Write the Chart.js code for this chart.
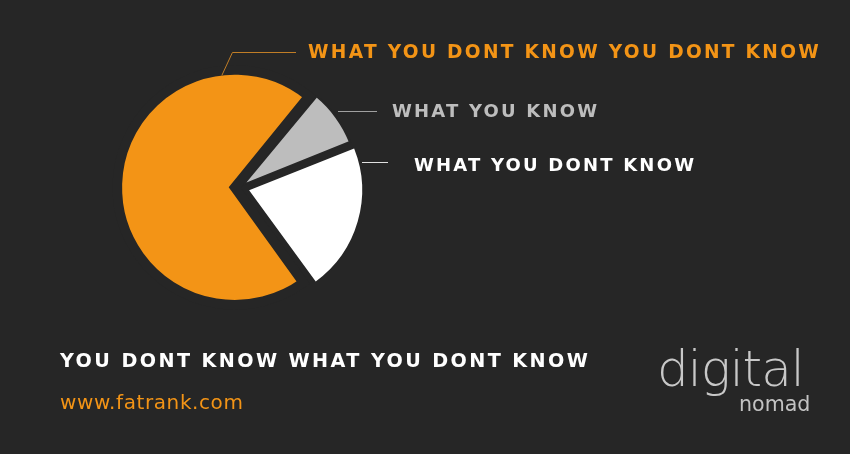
<!DOCTYPE html>
<html>
<head>
<meta charset="utf-8">
<script src="https://cdn.jsdelivr.net/npm/chart.js@4/dist/chart.umd.min.js"></script>
<style>
  html, body { margin: 0; padding: 0; background: #262626; }
  #wrap { position: relative; width: 850px; height: 454px; background: #262626; overflow: hidden; }
  #c { position: absolute; left: 0; top: 0; }
  .t { position: absolute; white-space: nowrap; font-family: "DejaVu Sans", sans-serif; font-weight: bold; line-height: 1; }
</style>
</head>
<body>
<div id="wrap">
  <canvas id="c" width="850" height="454"></canvas>
  <div class="t" id="l0" style="left:308px; top:43px; font-size:18.6px; letter-spacing:2.3px; color:#f39416;">WHAT YOU DONT KNOW YOU DONT KNOW</div>
  <div class="t" id="l1" style="left:392px; top:102px; font-size:18px; letter-spacing:2.2px; color:#bdbdbd;">WHAT YOU KNOW</div>
  <div class="t" id="l2" style="left:414px; top:156px; font-size:18px; letter-spacing:2.2px; color:#ffffff;">WHAT YOU DONT KNOW</div>
  <div class="t" id="title" style="left:60px; top:351px; font-size:19.2px; letter-spacing:2.4px; color:#ffffff;">YOU DONT KNOW WHAT YOU DONT KNOW</div>
  <div class="t" id="url" style="left:60px; top:392px; font-size:20px; font-weight:normal; letter-spacing:0.6px; font-family:'Comic Sans MS','DejaVu Sans',sans-serif; color:#f39416;">www.fatrank.com</div>
  <div class="t" id="logo1" style="left:657px; top:344px; font-size:50px; font-weight:200; font-family:'DejaVu Sans',sans-serif; color:#c8c8c8; letter-spacing:-1px;">digital</div>
  <div class="t" id="logo2" style="left:739px; top:394px; font-size:20.6px; font-weight:normal; font-family:'DejaVu Sans',sans-serif; color:#c3c3c3;">nomad</div>
</div>
<script>
const categories = ["WHAT YOU KNOW", "WHAT YOU DONT KNOW", "WHAT YOU DONT KNOW YOU DONT KNOW"];
const shares = [8, 21, 71];
const sliceColors = ["#bdbdbd", "#ffffff", "#f39416"];
const sliceOffsets = [18, 40, 19];
const sliceBorders = [2, 0, 9.6];

const leaderLines = {
  id: 'leaderLines',
  afterDatasetsDraw(chart) {
    const ctx = chart.ctx;
    const o = chart.getDatasetMeta(0).data[2];
    const half = (o.startAngle + o.endAngle) / 2;
    const shift = sliceOffsets[2] / 4;
    const cx = o.x + Math.cos(half) * shift, cy = o.y + Math.sin(half) * shift;
    const r = o.outerRadius + shift - sliceBorders[2] / 2;
    const a = -Math.PI / 2 - 0.115;
    const sx = cx + Math.cos(a) * r, sy = cy + Math.sin(a) * r;
    ctx.save();
    ctx.lineWidth = 1;
    ctx.strokeStyle = '#c07d26';
    ctx.beginPath();
    ctx.moveTo(sx, sy);
    ctx.lineTo(sx + 10.6, 52.5);
    ctx.lineTo(296, 52.5);
    ctx.stroke();
    ctx.strokeStyle = '#a0a0a0';
    ctx.beginPath();
    ctx.moveTo(338, 111.5);
    ctx.lineTo(377, 111.5);
    ctx.stroke();
    ctx.strokeStyle = '#e0e0e0';
    ctx.beginPath();
    ctx.moveTo(362, 162.5);
    ctx.lineTo(388, 162.5);
    ctx.stroke();
    ctx.restore();
  }
};

new Chart(document.getElementById('c'), {
  type: 'pie',
  data: {
    labels: categories,
    datasets: [{
      data: shares,
      backgroundColor: sliceColors,
      borderColor: '#262626',
      borderWidth: sliceBorders,
      borderJoinStyle: 'miter',
      offset: sliceOffsets,
      hoverOffset: 0
    }]
  },
  options: {
    responsive: false,
    animation: false,
    rotation: 39.5,
    layout: { padding: { left: 102, right: 473, top: 50, bottom: 129 } },
    plugins: { legend: { display: false }, tooltip: { enabled: false } },
    events: []
  },
  plugins: [leaderLines]
});
</script>
</body>
</html>
